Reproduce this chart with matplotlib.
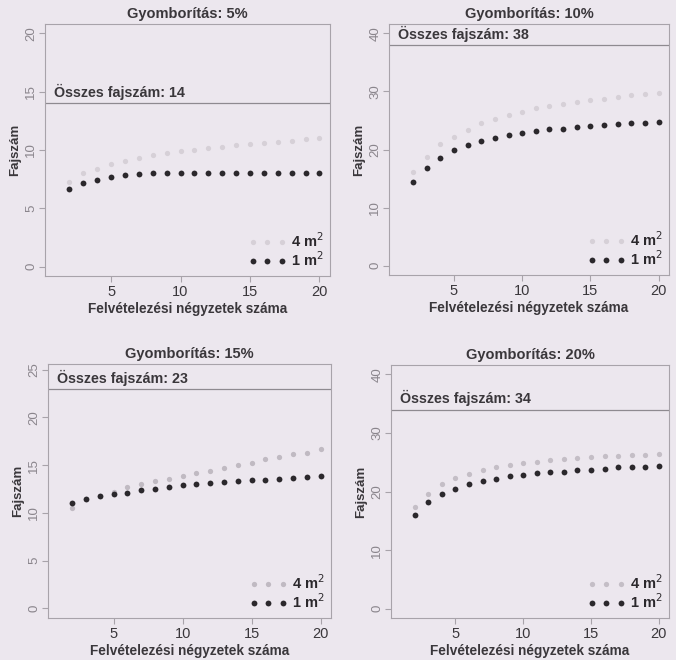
import matplotlib
matplotlib.use("Agg")
import matplotlib.pyplot as plt
import numpy as np

plt.rcParams['font.family'] = ['Liberation Sans', 'DejaVu Sans']

x = list(range(2, 21))

titles = ["Gyomborítás: 5%", "Gyomborítás: 10%", "Gyomborítás: 15%", "Gyomborítás: 20%"]
totals = [14, 38, 23, 34]
ytick_sets = [[0, 5, 10, 15, 20], [0, 10, 20, 30, 40], [0, 5, 10, 15, 20, 25], [0, 10, 20, 30, 40]]
ylims = [(-0.8, 20.8), (-1.6, 41.6), (-1.0, 25.6), (-1.6, 41.6)]

one_m2_p1 = [6.67, 7.2, 7.44, 7.67, 7.86, 7.95, 8.0, 8.02, 8.03, 8.04, 8.05, 8.05, 8.05, 8.06, 8.06, 8.06, 8.06, 8.06, 8.06]
four_m2_p1 = [7.3, 8.0, 8.4, 8.78, 9.09, 9.29, 9.57, 9.72, 9.91, 10.0, 10.14, 10.28, 10.43, 10.5, 10.57, 10.68, 10.8, 10.94, 11.03]

one_m2_p2 = [14.35, 16.9, 18.5, 19.9, 20.8, 21.5, 22.0, 22.5, 22.9, 23.2, 23.5, 23.6, 23.8, 24.0, 24.2, 24.4, 24.5, 24.6, 24.7]
four_m2_p2 = [16.2, 18.65, 20.9, 22.2, 23.4, 24.5, 25.25, 25.9, 26.5, 27.1, 27.5, 27.8, 28.2, 28.5, 28.7, 29.1, 29.4, 29.55, 29.7]

one_m2_p3 = [11.05, 11.5, 11.8, 12.03, 12.13, 12.37, 12.48, 12.72, 12.9, 13.0, 13.14, 13.24, 13.3, 13.42, 13.5, 13.6, 13.7, 13.77, 13.84]
four_m2_p3 = [10.56, 11.5, 11.75, 12.17, 12.7, 13.07, 13.35, 13.6, 13.87, 14.18, 14.4, 14.7, 15.0, 15.23, 15.6, 15.86, 16.14, 16.3, 16.66]

one_m2_p4 = [16.0, 18.2, 19.5, 20.5, 21.2, 21.8, 22.15, 22.6, 22.9, 23.2, 23.3, 23.4, 23.7, 23.7, 23.9, 24.1, 24.1, 24.2, 24.3]
four_m2_p4 = [17.4, 19.6, 21.2, 22.3, 23.0, 23.6, 24.1, 24.6, 24.8, 25.1, 25.4, 25.6, 25.8, 25.9, 26.0, 26.0, 26.2, 26.2, 26.4]

one_series = [one_m2_p1, one_m2_p2, one_m2_p3, one_m2_p4]
four_series = [four_m2_p1, four_m2_p2, four_m2_p3, four_m2_p4]
grey_cols = ["#d6d0d7", "#d6d0d7", "#c0bac2", "#c4bec6"]

bg = "#ece7ee"
W, H = 676, 660
fig = plt.figure(figsize=(W / 100, H / 100), dpi=100, facecolor=bg)

# (left, right, top, bottom) in pixels
boxes = [(45, 330, 24, 276), (389, 669, 24, 275), (48, 331, 364, 618), (391, 669, 365, 618)]

for i in range(4):
    l, r, t, b = boxes[i]
    ax = fig.add_axes([l / W, 1 - b / H, (r - l) / W, (b - t) / H])
    ax.set_facecolor(bg)
    for s in ax.spines.values():
        s.set_color("#a8a3aa")
        s.set_linewidth(0.8)
    ax.plot(x, four_series[i], 'o', ms=3.8, color=grey_cols[i], mec='none', label="4 m$^2$")
    ax.plot(x, one_series[i], 'o', ms=4.2, color="#2b282c", mec='none', label="1 m$^2$")
    ax.axhline(totals[i], color="#8e8a90", lw=0.9)
    ax.text(0.9, totals[i] + (ylims[i][1] - ylims[i][0]) * 0.012, f"Összes fajszám: {totals[i]}",
            fontsize=10.3, fontweight='bold', color="#3a373b", ha='left', va='bottom')
    ax.set_xlim(0.24, 20.76)
    ax.set_ylim(*ylims[i])
    ax.set_xticks([5, 10, 15, 20])
    ax.set_yticks(ytick_sets[i])
    ax.tick_params(axis='x', colors="#a8a3aa", labelcolor="#3a373b", labelsize=10.5, length=4, width=0.8, pad=2.5)
    ax.tick_params(axis='y', colors="#a8a3aa", labelcolor="#8a858c", labelsize=9.5, length=4, width=0.8, pad=1.5)
    for lab in ax.get_yticklabels():
        lab.set_rotation(90)
        lab.set_va('center')
    ax.set_title(titles[i], fontsize=10.5, fontweight='bold', color="#3a373b", pad=4)
    ax.set_xlabel("Felvételezési négyzetek száma", fontsize=9.8, fontweight='bold', color="#3a373b", labelpad=2)
    ax.set_ylabel("Fajszám", fontsize=9.5, fontweight='bold', color="#3a373b", labelpad=3)
    leg = ax.legend(loc='lower right', frameon=False, numpoints=3, handlelength=2.6,
                    handletextpad=0.3, labelspacing=0.02, borderaxespad=0.05,
                    prop={'weight': 'bold', 'size': 10.5})
    for txt in leg.get_texts():
        txt.set_color("#2b282c")

fig.savefig("out.png", dpi=100, facecolor=bg)
